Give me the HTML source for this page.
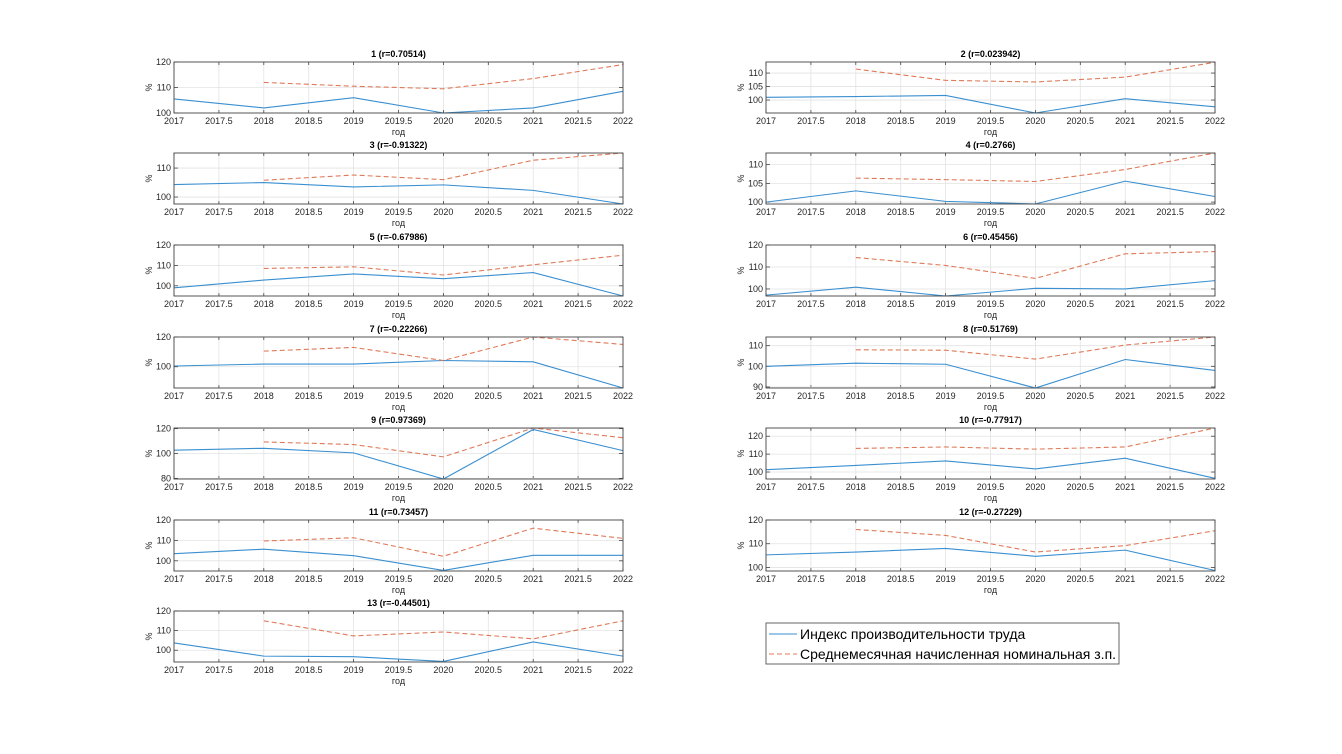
<!DOCTYPE html>
<html><head><meta charset="utf-8"><style>
body{margin:0;background:#fff;}
svg{display:block;font-family:"Liberation Sans",Arial,sans-serif;}
</style></head><body>
<svg id="s" width="1342" height="754" xmlns="http://www.w3.org/2000/svg"></svg>
<script>
const P=[
["1 (r=0.70514)",174,62,[100,120],[100,110,120],[105.5,102,106,100,102,108.5],[112,110.5,109.5,113.5,119]],
["2 (r=0.023942)",766,62,[95.2,114.1],[100,105,110],[101,101.3,101.7,95.2,100.5,97.5],[111.5,107.3,106.7,108.5,114]],
["3 (r=-0.91322)",174,153,[97.6,115.2],[100,110],[104.3,105,103.5,104.2,102.3,97.6],[105.8,107.6,106,112.7,115.2]],
["4 (r=0.2766)",766,153,[99.5,113.1],[100,105,110],[100,103,100.2,99.5,105.6,101.5],[106.4,106,105.5,108.7,113.1]],
["5 (r=-0.67986)",174,245,[95,120],[100,110,120],[99,102.8,105.8,103.5,106.5,95],[108.5,109.3,105.3,110.3,115]],
["6 (r=0.45456)",766,245,[96.8,120],[100,110,120],[97.2,100.8,96.8,100.3,100,103.8],[114.3,110.7,104.8,116,117]],
["7 (r=-0.22266)",174,337,[85.7,120],[100,120],[100.5,101.8,101.8,104.2,103.3,85.7],[110.5,113,104.2,120,115]],
["8 (r=0.51769)",766,337,[89.5,114.2],[90,100,110],[100,101.5,101,89.5,103.3,98],[108,107.8,103.5,110.3,114.2]],
["9 (r=0.97369)",174,428,[79.5,120.5],[80,100,120],[102.7,104.2,100.5,79.5,119.3,102.3],[109.3,107.2,97.3,120.5,112.7]],
["10 (r=-0.77917)",766,428,[96.1,124.6],[100,110,120],[101.3,103.7,106.2,101.7,107.7,96.5],[113.2,114,112.8,114,124.6]],
["11 (r=0.73457)",174,520,[95,120],[100,110,120],[103.5,105.7,102.5,95.3,102.7,102.7],[109.7,111.3,102.2,116,111]],
["12 (r=-0.27229)",766,520,[98.5,120],[100,110,120],[105.3,106.5,108,104.7,107.3,98.7],[116,113.5,106.5,109.2,115.5]],
["13 (r=-0.44501)",174,611,[94,120],[100,110,120],[103.7,97,96.7,94.3,104.2,97],[115,107.3,109.3,105.8,115]]
];
const W=449,H=51;let o='';
for(const [t,x0,y0,[a,b],yt,bl,rd] of P){
 const X=v=>x0+(v-2017)/5*W, Y=v=>y0+H-(v-a)/(b-a)*H;
 for(let i=0;i<=10;i++){const x=x0+i*W/10;
  o+=`<line x1="${x}" y1="${y0}" x2="${x}" y2="${y0+H}" stroke="#e3e3e3" stroke-width="0.8"/>`;
  o+=`<line x1="${x}" y1="${y0+H}" x2="${x}" y2="${y0+H-3}" stroke="#444" stroke-width="0.8"/><line x1="${x}" y1="${y0}" x2="${x}" y2="${y0+3}" stroke="#444" stroke-width="0.8"/>`;
  o+=`<text x="${x}" y="${y0+H+11}" font-size="9" fill="#262626" text-anchor="middle">${(2017+i/2)}</text>`;}
 for(const v of yt){const y=Y(v);
  o+=`<line x1="${x0}" y1="${y}" x2="${x0+W}" y2="${y}" stroke="#e3e3e3" stroke-width="0.8"/>`;
  o+=`<line x1="${x0}" y1="${y}" x2="${x0+4}" y2="${y}" stroke="#444" stroke-width="0.8"/><line x1="${x0+W-4}" y1="${y}" x2="${x0+W}" y2="${y}" stroke="#444" stroke-width="0.8"/>`;
  o+=`<text x="${x0-3}" y="${y+3}" font-size="9" fill="#262626" text-anchor="end">${v}</text>`;}
 o+=`<text x="${x0+W/2}" y="${y0+H+22}" font-size="9" fill="#262626" text-anchor="middle">год</text>`;
 o+=`<text x="${x0+W/2}" y="${y0-5}" font-size="9" font-weight="bold" fill="#000" text-anchor="middle">${t}</text>`;
 o+=`<text transform="translate(${x0-22},${y0+H/2}) rotate(-90)" font-size="9" fill="#262626" text-anchor="middle">%</text>`;
 o+=`<polyline fill="none" stroke="#3a8fd0" stroke-width="1.1" points="${bl.map((v,i)=>X(2017+i)+','+Y(v)).join(' ')}"/>`;
 o+=`<polyline fill="none" stroke="#e07a5a" stroke-width="1.1" stroke-dasharray="5,3" points="${rd.map((v,i)=>X(2018+i)+','+Y(v)).join(' ')}"/>`;
 o+=`<rect x="${x0}" y="${y0}" width="${W}" height="${H}" fill="none" stroke="#444" stroke-width="0.9"/>`;
}
o+=`<rect x="766" y="623" width="353" height="41" fill="#fff" stroke="#555" stroke-width="0.9"/>`;
o+=`<line x1="769" y1="634" x2="797" y2="634" stroke="#3a8fd0" stroke-width="1"/>`;
o+=`<line x1="769" y1="654" x2="797" y2="654" stroke="#e07a5a" stroke-width="1" stroke-dasharray="5,3"/>`;
o+=`<text x="800" y="639" font-size="14" fill="#000">Индекс производительности труда</text>`;
o+=`<text x="800" y="659" font-size="14" fill="#000">Среднемесячная начисленная номинальная з.п.</text>`;
document.getElementById('s').innerHTML=o;
</script>
</body></html>
